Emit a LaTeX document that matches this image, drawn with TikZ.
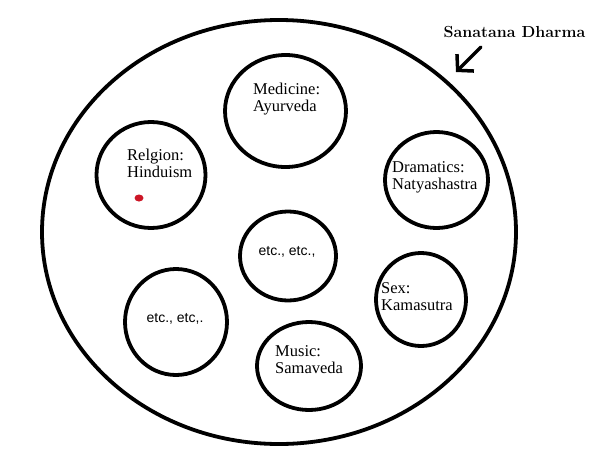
\documentclass[tikz,border=0pt]{standalone}
\usepackage{fontspec}
\newfontfamily\sanstext{Liberation Sans}
\newfontfamily\circtext{Liberation Serif}
\usepackage{xcolor}
\definecolor{dotred}{RGB}{204,22,38}
\usetikzlibrary{arrows.meta,shapes.geometric}

\begin{document}
\begin{tikzpicture}[x=1pt, y=-1pt,
  circ/.style={draw, ellipse, line width=3.8pt, inner sep=0pt},
  txt/.style={anchor=west, align=left, inner sep=0pt, font=\circtext\fontsize{16.5}{17}\selectfont},
  etctxt/.style={anchor=base, inner sep=0pt, font=\sanstext\fontsize{14}{16}\selectfont},
  arrow/.style={-{Straight Barb[length=11pt, width=24pt]}, line width=3.5pt, line cap=round}
]
\useasboundingbox (0,0) rectangle (602,458);

\node[circ, minimum width=474pt, minimum height=424pt] (dharma) at (279,232) {};
\node[circ, minimum width=121pt, minimum height=112pt] (medicine) at (285.5,111) {};
\node[circ, minimum width=109pt, minimum height=106pt] (religion) at (151,175) {};
\node[circ, minimum width=103pt, minimum height=96pt] (drama) at (436.5,180) {};
\node[circ, minimum width=96pt, minimum height=89pt] (etcmid) at (288,256) {};
\node[circ, minimum width=102pt, minimum height=106pt] (etcleft) at (176,322) {};
\node[circ, minimum width=90pt, minimum height=93pt] (sex) at (421,299.5) {};
\node[circ, minimum width=104pt, minimum height=88pt] (music) at (309,366) {};

\node[txt] (medtext) at (253,99.5) {Medicine:\\Ayurveda};
\node[txt] (reltext) at (127,163) {Relgion:\\Hinduism};
\node[txt] (dramatext) at (392,177.5) {Dramatics:\\Natyashastra};
\node[txt] (sextext) at (381,296.5) {Sex:\\Kamasutra};
\node[txt] (musictext) at (275,359.5) {Music:\\Samaveda};
\node[etctxt] (etcmidtext) at (287,255) {etc., etc.,};
\node[etctxt] (etclefttext) at (175,322) {etc., etc,.};

\fill[dotred] (139,198) ellipse [x radius=4.5, y radius=3.5];

\node[anchor=base, inner sep=0pt, font=\bfseries\fontsize{16}{18}\selectfont] (title) at (514.5,37) {Sanatana Dharma};
\coordinate (tail) at (481,47);
\coordinate (tip) at (456,72);
\draw[arrow] (tail) -- (tip);
\end{tikzpicture}
\end{document}
